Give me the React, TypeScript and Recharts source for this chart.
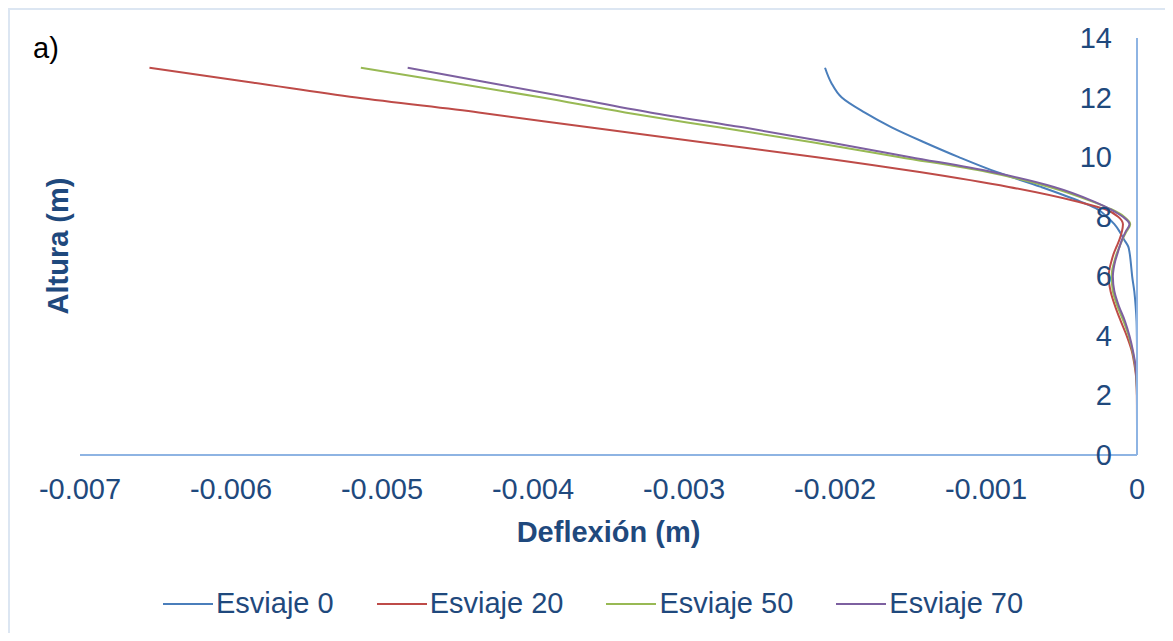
import React from 'react';
import { LineChart, Line, XAxis, YAxis, Legend } from 'recharts';

// height (m) shared by every series
const alturas = [0, 1, 2, 2.5, 3, 3.5, 4, 4.5, 5, 5.5, 6, 6.25, 6.5, 6.75, 7, 7.25, 7.5, 7.75, 8, 8.25, 8.5, 9, 9.5, 10, 10.5, 11, 11.5, 12, 12.5, 13];

// deflection (m)
const esviaje0 = [0, 0, 0, 0, 0, 0, -0.000001, -0.000003, -0.000009, -0.000018, -0.000032, -0.000037, -0.000042, -0.000048, -0.000058, -0.000088, -0.000115, -0.00015, -0.0002, -0.00026, -0.00037, -0.000635, -0.00093, -0.00118, -0.00141, -0.001625, -0.001805, -0.001955, -0.002025, -0.002066];
const esviaje20 = [0, 0, -0.000001, -0.000004, -0.000016, -0.000035, -0.000068, -0.000108, -0.000145, -0.000175, -0.000188, -0.000182, -0.00017, -0.000155, -0.000135, -0.000115, -0.0001, -0.000093, -0.000125, -0.00021, -0.00039, -0.00085, -0.00144, -0.00212, -0.00288, -0.00363, -0.00436, -0.00517, -0.00585, -0.00654];
const esviaje50 = [0, 0, 0, -0.000003, -0.000012, -0.00003, -0.000055, -0.00009, -0.00013, -0.00016, -0.000168, -0.000163, -0.00015, -0.000135, -0.000115, -0.000095, -0.00007, -0.000045, -0.000085, -0.00017, -0.00029, -0.00058, -0.00099, -0.00157, -0.00215, -0.00277, -0.00339, -0.00394, -0.00453, -0.00514];
const esviaje70 = [0, 0, 0, -0.000003, -0.00001, -0.000027, -0.00005, -0.00008, -0.00012, -0.00015, -0.00016, -0.000155, -0.000145, -0.00013, -0.000115, -0.000098, -0.000075, -0.00005, -0.000094, -0.000175, -0.00028, -0.00055, -0.00096, -0.0015, -0.00204, -0.00261, -0.003225, -0.003755, -0.00429, -0.00483];

const xTicks = [-0.007, -0.006, -0.005, -0.004, -0.003, -0.002, -0.001, 0];
const yTicks = [0, 2, 4, 6, 8, 10, 12, 14];

const series = [
  { key: 'e0', name: 'Esviaje 0', color: '#4A7EBB' },
  { key: 'e20', name: 'Esviaje 20', color: '#BE4B48' },
  { key: 'e50', name: 'Esviaje 50', color: '#98B954' },
  { key: 'e70', name: 'Esviaje 70', color: '#7D60A0' },
];

const data = alturas.map((h, i) => ({
  h,
  e0: esviaje0[i],
  e20: esviaje20[i],
  e50: esviaje50[i],
  e70: esviaje70[i],
}));

const W = 1157;
const H = 625;
const FONT = '"Liberation Sans", Arial, sans-serif';
const TXT = '#1F497D';
const AXIS = '#8EB4E3';

const XTick = (props: any) => (
  <text x={props.x} y={481} textAnchor="middle" dominantBaseline="central" fill={TXT} fontSize={29} fontFamily={FONT}>
    {props.payload.value}
  </text>
);

const YTick = (props: any) => (
  <text x={1104} y={props.y} textAnchor="end" dominantBaseline="central" fill={TXT} fontSize={29} fontFamily={FONT}>
    {props.payload.value}
  </text>
);

const LegendBox = () => (
  <div style={{ display: 'flex', alignItems: 'center', fontFamily: FONT, fontSize: 29, color: TXT, whiteSpace: 'nowrap' }}>
    {series.map((s, i) => (
      <div key={s.key} style={{ display: 'flex', alignItems: 'center', marginRight: i < series.length - 1 ? 43 : 0 }}>
        <svg width={50} height={4} style={{ marginRight: 3 }}>
          <line x1={0} y1={2} x2={50} y2={2} stroke={s.color} strokeWidth={2} />
        </svg>
        <span>{s.name}</span>
      </div>
    ))}
  </div>
);

export default function App() {
  return (
    <div style={{ position: 'relative', width: W, height: H }}>
      <div style={{ position: 'absolute', left: 0, top: 0, width: W, height: H, borderLeft: '2px solid #DCE6F2', borderTop: '2px solid #DCE6F2', boxSizing: 'border-box', pointerEvents: 'none' }} />
      <LineChart
        width={W}
        height={H}
        data={data}
        layout="vertical"
        margin={{ top: 30, right: 27, bottom: 78, left: 72 }}
        style={{ fontFamily: FONT }}
      >
        <XAxis
          type="number"
          domain={[-0.007, 0]}
          ticks={xTicks}
          interval={0}
          allowDataOverflow
          height={100}
          tickLine={false}
          axisLine={{ stroke: AXIS, strokeWidth: 2 }}
          tick={<XTick />}
          label={{ value: 'Deflexión (m)', position: 'insideBottom', offset: 13, fill: TXT, fontSize: 29, fontWeight: 'bold', fontFamily: FONT }}
        />
        <YAxis
          dataKey="h"
          type="number"
          orientation="right"
          reversed
          domain={[0, 14]}
          ticks={yTicks}
          interval={0}
          width={1}
          tickLine={false}
          axisLine={{ stroke: AXIS, strokeWidth: 2 }}
          tick={<YTick />}
        />
        {series.map((s) => (
          <Line
            key={s.key}
            dataKey={s.key}
            name={s.name}
            type="monotone"
            stroke={s.color}
            strokeWidth={2}
            dot={false}
            activeDot={false}
            isAnimationActive={false}
          />
        ))}
        <Legend
          layout="horizontal"
          verticalAlign="middle"
          align="center"
          wrapperStyle={{ top: 579, left: 155, width: 900, height: 34 }}
          content={() => <LegendBox />}
        />
        <text x={25} y={50} fontSize={29} fontFamily={FONT} fill="#000">a)</text>
        <text
          x={50}
          y={238}
          transform="rotate(-90, 50, 238)"
          textAnchor="middle"
          dominantBaseline="central"
          fontSize={29}
          fontWeight="bold"
          fontFamily={FONT}
          fill={TXT}
        >
          Altura (m)
        </text>
      </LineChart>
    </div>
  );
}
